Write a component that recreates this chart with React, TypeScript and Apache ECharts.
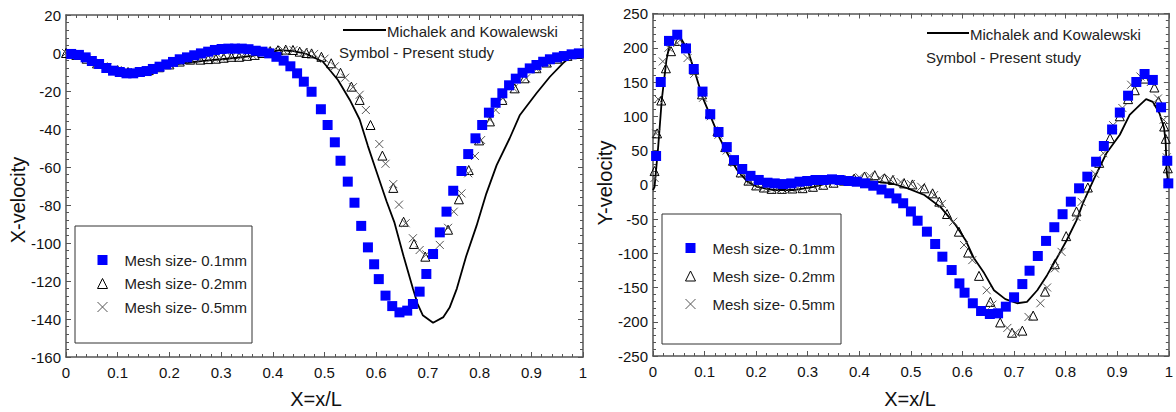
import React, { useEffect, useRef } from "react";
import * as echarts from "echarts";

// ---------- Data: left panel (X-velocity) ----------
const xvelMesh01: number[][] = [
  [0.01, -0.5], [0.025, -1], [0.038, -2.3], [0.05, -4.2], [0.064, -5.8], [0.078, -7.9], [0.091, -9.3],
  [0.104, -10], [0.117, -10.7], [0.13, -10.7], [0.143, -10], [0.156, -9.5], [0.168, -8.4], [0.181, -7.2],
  [0.194, -6], [0.207, -4.7], [0.22, -3.3], [0.234, -2.3], [0.248, -1.2], [0.261, -0.2], [0.275, 0.7],
  [0.288, 1.6], [0.301, 2.1], [0.314, 2.3], [0.327, 2.3], [0.34, 2.3], [0.353, 2], [0.367, 1.2],
  [0.38, 0.7], [0.393, -0.2], [0.407, -2], [0.421, -4], [0.434, -7], [0.447, -10.7], [0.46, -15.1],
  [0.475, -20.4], [0.493, -29.6], [0.506, -37.9], [0.52, -47], [0.531, -56.7], [0.545, -67.7],
  [0.558, -78.8], [0.571, -91], [0.584, -102.3], [0.596, -111.2], [0.605, -119], [0.618, -127.7],
  [0.631, -133.2], [0.645, -136.5], [0.66, -135.6], [0.671, -132.1], [0.684, -125.6], [0.697, -116.3],
  [0.71, -105.8], [0.723, -94.4], [0.736, -83.5], [0.749, -72.5], [0.765, -62.1], [0.778, -53.2],
  [0.792, -44.9], [0.805, -37.9], [0.818, -31.4], [0.831, -26.2], [0.844, -21.2], [0.857, -17],
  [0.87, -13.5], [0.883, -10.4], [0.897, -8.1], [0.91, -6.3], [0.923, -4.6], [0.936, -3.3],
  [0.95, -2.3], [0.963, -1.6], [0.978, -0.7], [0.992, -0.2],
];
const xvelMesh02: number[][] = [
  [0.0, 0], [0.02, -1], [0.04, -3], [0.06, -5.5], [0.08, -7.5], [0.1, -9], [0.12, -10], [0.14, -9.8],
  [0.16, -9], [0.18, -7.5], [0.2, -6], [0.22, -4.5], [0.24, -3.5], [0.26, -3.5], [0.275, -3.2],
  [0.29, -3], [0.305, -2.5], [0.32, -2], [0.335, -2], [0.35, -1.5], [0.365, -1], [0.38, 0], [0.395, 1],
  [0.41, 1.5], [0.425, 1.8], [0.439, 1.6], [0.452, 0.7], [0.465, 0], [0.475, -0.2], [0.494, -2],
  [0.513, -5.4], [0.531, -10.4], [0.552, -17.7], [0.568, -24.7], [0.589, -37.9], [0.612, -54],
  [0.633, -71], [0.653, -88.8], [0.673, -100.5], [0.695, -107.2], [0.739, -93], [0.76, -77],
  [0.779, -61.6], [0.799, -46], [0.82, -36], [0.844, -24.7], [0.868, -18.6], [0.887, -13.3],
  [0.91, -8], [0.93, -5], [0.95, -3], [0.97, -1.5], [0.99, -0.5],
];
const xvelMesh05: number[][] = [
  [0.0, 0], [0.02, -1], [0.04, -3], [0.06, -5.5], [0.08, -7.5], [0.1, -9], [0.12, -10], [0.14, -9.8],
  [0.16, -9], [0.18, -7.5], [0.2, -6], [0.22, -4.5], [0.24, -3.5], [0.26, -3.2], [0.28, -3],
  [0.3, -2.5], [0.32, -2], [0.34, -1.8], [0.36, -1], [0.38, 0], [0.4, 1], [0.42, 1.5], [0.44, 1.5],
  [0.46, 0.5], [0.48, -0.5], [0.5, -3], [0.52, -7], [0.54, -13], [0.555, -18], [0.568, -22],
  [0.58, -30], [0.606, -47.9], [0.618, -58.3], [0.633, -69], [0.644, -79.8], [0.657, -89.6],
  [0.671, -97.5], [0.684, -103.7], [0.697, -106], [0.723, -101], [0.739, -92], [0.75, -83.5],
  [0.765, -73.9], [0.778, -63.3], [0.791, -54.2], [0.803, -45.8], [0.82, -35], [0.831, -30],
  [0.845, -23.8], [0.866, -18.6], [0.89, -13.3], [0.91, -8.5], [0.93, -5.5], [0.95, -3.2],
  [0.97, -1.6], [0.99, -0.5],
];
const xvelMichalek: number[][] = [
  [0, 0], [0.03, -2], [0.06, -5], [0.09, -8], [0.12, -9.5], [0.15, -9], [0.18, -7.5], [0.21, -6],
  [0.24, -5], [0.27, -4], [0.3, -3.3], [0.33, -2.5], [0.36, -1.5], [0.39, 0], [0.413, 1.5],
  [0.44, 1], [0.465, -0.5], [0.497, -4.6], [0.526, -14.2], [0.549, -24.7], [0.568, -35],
  [0.584, -49], [0.6, -62], [0.62, -78], [0.635, -89], [0.653, -107], [0.671, -124], [0.68, -132],
  [0.69, -138], [0.71, -142], [0.73, -139], [0.742, -134], [0.756, -124], [0.774, -107],
  [0.794, -91], [0.813, -74], [0.833, -59], [0.858, -45], [0.878, -32.6], [0.91, -21.2],
  [0.936, -12.5], [0.961, -5.4], [0.98, -1], [1, 0],
];

// ---------- Data: right panel (Y-velocity) ----------
const yvelMesh01: number[][] = [
  [0.006, 42], [0.015, 150], [0.031, 210], [0.047, 219], [0.064, 199], [0.079, 169], [0.096, 136],
  [0.111, 103], [0.127, 77], [0.143, 55], [0.157, 36], [0.173, 23], [0.189, 13], [0.205, 7],
  [0.222, 3], [0.236, 2], [0.252, 1], [0.268, 2], [0.284, 4.4], [0.299, 5.5], [0.315, 6.9],
  [0.331, 6.9], [0.347, 7.9], [0.362, 6.9], [0.379, 5.5], [0.395, 4.4], [0.411, 2.1], [0.427, -1.4],
  [0.443, -7], [0.458, -12.5], [0.472, -20], [0.485, -27], [0.5, -39], [0.513, -52.5], [0.531, -68.5],
  [0.547, -86.5], [0.561, -105], [0.579, -124.5], [0.594, -144], [0.604, -157.6], [0.62, -173],
  [0.636, -184.3], [0.653, -188.7], [0.669, -187.7], [0.684, -178], [0.7, -164.3], [0.716, -145],
  [0.73, -125.5], [0.746, -104], [0.762, -82], [0.778, -62], [0.794, -43], [0.81, -24.7],
  [0.826, -5.2], [0.842, 11.8], [0.859, 33.6], [0.874, 56.6], [0.89, 80.7], [0.905, 105.4],
  [0.921, 130], [0.937, 150], [0.953, 161.7], [0.969, 153], [0.985, 113], [0.997, 35], [0.999, 2],
];
const yvelMesh02: number[][] = [
  [0.003, 20], [0.008, 75], [0.016, 123], [0.025, 170], [0.035, 195], [0.05, 210], [0.065, 200],
  [0.08, 168], [0.095, 132], [0.11, 104], [0.125, 78], [0.14, 55], [0.155, 35], [0.17, 18],
  [0.185, 6], [0.2, -1], [0.215, -4], [0.23, -6], [0.25, -6], [0.27, -5.5], [0.29, -5], [0.31, -3],
  [0.33, 0], [0.35, 3], [0.37, 6], [0.39, 9], [0.41, 12], [0.43, 14], [0.449, 9.4], [0.465, 7],
  [0.487, 2], [0.503, 0.5], [0.526, -5.2], [0.542, -12.5], [0.555, -24.7], [0.57, -42.7],
  [0.593, -68.5], [0.611, -99], [0.632, -133], [0.654, -171], [0.673, -201], [0.696, -216],
  [0.716, -213], [0.737, -191], [0.76, -156], [0.779, -116], [0.801, -75], [0.821, -39],
  [0.843, -4], [0.865, 32], [0.886, 68], [0.905, 100], [0.921, 125], [0.934, 138], [0.953, 155],
  [0.972, 142], [0.98, 122], [0.991, 85], [0.994, 67], [0.998, 24],
];
const yvelMesh05: number[][] = [
  [0.003, 10], [0.006, 75], [0.01, 125], [0.019, 180], [0.03, 200], [0.047, 207], [0.067, 185],
  [0.08, 162], [0.097, 127], [0.112, 100], [0.127, 73], [0.143, 50], [0.158, 32], [0.173, 16],
  [0.188, 5], [0.203, -2], [0.22, -5], [0.24, -6], [0.26, -6], [0.28, -5], [0.3, -4], [0.32, -1],
  [0.34, 2], [0.36, 5], [0.38, 8], [0.4, 11], [0.42, 13], [0.44, 10], [0.46, 8], [0.48, 4],
  [0.5, 1], [0.52, -3], [0.545, -15], [0.56, -28], [0.582, -54], [0.603, -88], [0.619, -110],
  [0.647, -154], [0.658, -175], [0.687, -209], [0.703, -216], [0.728, -193], [0.751, -173],
  [0.764, -150], [0.779, -122], [0.792, -98], [0.821, -47], [0.831, -25], [0.857, 16], [0.873, 46],
  [0.892, 87], [0.91, 112], [0.927, 146], [0.945, 158], [0.965, 150], [0.979, 126], [0.99, 95],
  [0.996, 40],
];
const yvelMichalek: number[][] = [
  [0.0, -8], [0.003, -3], [0.01, 55], [0.017, 124], [0.026, 182], [0.032, 204], [0.041, 216],
  [0.054, 214], [0.067, 197], [0.08, 167], [0.096, 128], [0.112, 99], [0.128, 70], [0.144, 46],
  [0.163, 21.5], [0.183, 4.5], [0.202, -3], [0.234, -7.7], [0.273, -7.7], [0.312, -3], [0.35, 4.5],
  [0.389, 7], [0.43, 4.5], [0.462, 2.2], [0.494, -5.2], [0.526, -15], [0.558, -33], [0.587, -59],
  [0.606, -81], [0.622, -107], [0.642, -129], [0.661, -154], [0.683, -167], [0.706, -173],
  [0.725, -171], [0.745, -154], [0.764, -132], [0.783, -107], [0.802, -81], [0.821, -52],
  [0.834, -26], [0.854, 7], [0.879, 46], [0.905, 73], [0.924, 102], [0.943, 116], [0.956, 125],
  [0.969, 121], [0.982, 104], [0.991, 82], [0.994, 60], [0.996, 17], [1, 0],
];

// ---------- Labels ----------
const seriesNames = ["Mesh size- 0.1mm", "Mesh size- 0.2mm", "Mesh size- 0.5mm"];
const refName = "Michalek and Kowalewski";
const symbolNote = "Symbol - Present study";
const xTitle = "X=x/L";
const leftYTitle = "X-velocity";
const rightYTitle = "Y-velocity";

const FONT = "'Liberation Sans', Arial, Helvetica, sans-serif";
const AXIS_COLOR = "#555";
const CROSS = "path://M0,0L10,10M10,0L0,10";

function xAxes(gridIndex: number) {
  const base = {
    type: "value",
    gridIndex,
    min: 0,
    max: 1,
    interval: 0.1,
    splitLine: { show: false },
    axisLine: { show: true, onZero: false, lineStyle: { color: AXIS_COLOR, width: 1.5 } },
    axisTick: { show: true, inside: true, length: 5, lineStyle: { color: AXIS_COLOR, width: 1 } },
    minorTick: { show: true, splitNumber: 5, length: 3, lineStyle: { color: AXIS_COLOR, width: 1 } },
  };
  return [
    {
      ...base,
      position: "bottom",
      axisLabel: {
        show: true,
        margin: 8,
        fontSize: 15,
        color: "#111",
        fontFamily: FONT,
        formatter: (v: number) => (v === 0 || v === 1 ? String(v) : v.toFixed(1)),
      },
    },
    { ...base, position: "top", axisLabel: { show: false } },
  ];
}

function yAxes(gridIndex: number, min: number, max: number, interval: number) {
  const base = {
    type: "value",
    gridIndex,
    min,
    max,
    interval,
    splitLine: { show: false },
    axisLine: { show: true, onZero: false, lineStyle: { color: AXIS_COLOR, width: 1.5 } },
    axisTick: { show: true, inside: true, length: 5, lineStyle: { color: AXIS_COLOR, width: 1 } },
    minorTick: { show: true, splitNumber: 5, length: 3, lineStyle: { color: AXIS_COLOR, width: 1 } },
  };
  return [
    {
      ...base,
      position: "left",
      axisLabel: { show: true, margin: 5, fontSize: 15, color: "#111", fontFamily: FONT },
    },
    { ...base, position: "right", axisLabel: { show: false } },
  ];
}

function panelSeries(axisIdx: number, line: number[][], m1: number[][], m2: number[][], m5: number[][]) {
  return [
    {
      name: refName,
      type: "line",
      xAxisIndex: axisIdx,
      yAxisIndex: axisIdx,
      data: line,
      showSymbol: false,
      lineStyle: { color: "#000", width: 1.8 },
      z: 2,
    },
    {
      name: seriesNames[1],
      type: "scatter",
      xAxisIndex: axisIdx,
      yAxisIndex: axisIdx,
      data: m2,
      symbol: "triangle",
      symbolSize: 9,
      itemStyle: { color: "rgba(255,255,255,0)", borderColor: "#000", borderWidth: 1, opacity: 1 },
      z: 3,
    },
    {
      name: seriesNames[2],
      type: "scatter",
      xAxisIndex: axisIdx,
      yAxisIndex: axisIdx,
      data: m5,
      symbol: CROSS,
      symbolSize: 8,
      itemStyle: { color: "none", borderColor: "#555", borderWidth: 1, opacity: 1 },
      z: 3,
    },
    {
      name: seriesNames[0],
      type: "scatter",
      xAxisIndex: axisIdx,
      yAxisIndex: axisIdx,
      data: m1,
      symbol: "rect",
      symbolSize: 10,
      itemStyle: { color: "#0000ff", opacity: 1 },
      z: 4,
    },
  ];
}

function legendAt(left: number, top: number, gap: number) {
  return {
    show: true,
    orient: "vertical",
    left,
    top,
    padding: 0,
    itemGap: gap,
    itemWidth: 10,
    itemHeight: 10,
    selectedMode: false,
    textStyle: { fontSize: 15, color: "#222", fontFamily: FONT, padding: [0, 0, 0, 12] },
    data: [
      { name: seriesNames[0], icon: "rect", itemStyle: { color: "#0000ff", opacity: 1 } },
      {
        name: seriesNames[1],
        icon: "triangle",
        itemStyle: { color: "rgba(255,255,255,0)", borderColor: "#000", borderWidth: 1, opacity: 1 },
      },
      {
        name: seriesNames[2],
        icon: CROSS,
        itemStyle: { color: "none", borderColor: "#555", borderWidth: 1, opacity: 1 },
      },
    ],
  };
}

function textEl(x: number, y: number, text: string, size: number, extra: any = {}) {
  return {
    type: "text",
    x,
    y,
    style: {
      text,
      fontSize: size,
      fontFamily: FONT,
      fill: "#222",
      textAlign: "left",
      textVerticalAlign: "middle",
      ...extra,
    },
    z: 10,
  };
}

export default function App() {
  const ref = useRef<HTMLDivElement>(null);
  useEffect(() => {
    if (!ref.current) return;
    const chart = echarts.init(ref.current, undefined, { renderer: "svg" });
    const option: any = {
      animation: false,
      backgroundColor: "#fff",
      grid: [
        { left: 66, top: 15, width: 517, height: 342 },
        { left: 653, top: 13.5, width: 519, height: 342.5 },
      ],
      xAxis: [...xAxes(0), ...xAxes(1)],
      yAxis: [...yAxes(0, -160, 20, 20), ...yAxes(1, -250, 250, 50)],
      legend: [legendAt(95, 252.5, 8.5), legendAt(683, 240.5, 13)],
      series: [
        ...panelSeries(0, xvelMichalek, xvelMesh01, xvelMesh02, xvelMesh05),
        ...panelSeries(2, yvelMichalek, yvelMesh01, yvelMesh02, yvelMesh05),
      ],
      graphic: [
        // legend boxes
        { type: "rect", shape: { x: 75, y: 226, width: 177, height: 117 }, style: { fill: "none", stroke: "#333", lineWidth: 1 }, z: 1 },
        { type: "rect", shape: { x: 662, y: 214, width: 179, height: 130 }, style: { fill: "none", stroke: "#333", lineWidth: 1 }, z: 1 },
        // reference-line annotations
        { type: "line", shape: { x1: 343, y1: 30, x2: 386, y2: 30 }, style: { stroke: "#000", lineWidth: 1.8 }, z: 10 },
        textEl(387, 31, refName, 15),
        textEl(339, 52, symbolNote, 15),
        { type: "line", shape: { x1: 927, y1: 33, x2: 969, y2: 33 }, style: { stroke: "#000", lineWidth: 1.8 }, z: 10 },
        textEl(970, 34, refName, 15),
        textEl(926, 57, symbolNote, 15),
        // axis titles
        textEl(316, 399, xTitle, 20, { textAlign: "center", fill: "#111" }),
        textEl(910, 399, xTitle, 20, { textAlign: "center", fill: "#111" }),
        { ...textEl(18, 200, leftYTitle, 20, { textAlign: "center", fill: "#111" }), rotation: Math.PI / 2 },
        { ...textEl(605, 183, rightYTitle, 20, { textAlign: "center", fill: "#111" }), rotation: Math.PI / 2 },
      ],
    };
    chart.setOption(option);
    return () => chart.dispose();
  }, []);
  return (
    <div
      ref={ref}
      style={{ position: "fixed", left: 0, top: 0, width: 1176, height: 412, background: "#fff" }}
    />
  );
}
